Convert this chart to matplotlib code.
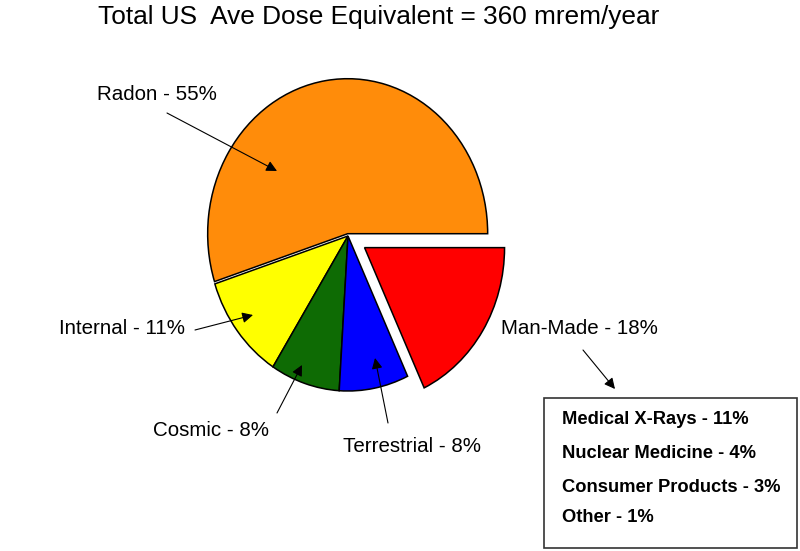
import matplotlib
matplotlib.use("Agg")
import matplotlib.pyplot as plt
from matplotlib.patches import Rectangle

plt.rcParams['font.family'] = ['Liberation Sans', 'DejaVu Sans']

title = "Total US  Ave Dose Equivalent = 360 mrem/year"
sources = ["Radon", "Internal", "Cosmic", "Terrestrial", "Man-Made"]
percent = [55, 11, 8, 8, 18]
colors = ["#FF8C0A", "#FFFF00", "#0E6B04", "#0000FF", "#FF0000"]
explode = [0.015, 0, 0, 0, 0.14]

man_made = ["Medical X-Rays", "Nuclear Medicine", "Consumer Products", "Other"]
man_made_pct = [11, 4, 3, 1]

W, H = 800, 551
fig = plt.figure(figsize=(W / 100, H / 100), dpi=100)
ax = fig.add_axes([0, 0, 1, 1])

ax.pie(percent, colors=colors, explode=explode, startangle=0, counterclock=True,
       wedgeprops=dict(edgecolor='black', linewidth=1.1))

# pie centre at pixel (348, 236), radius ~140 px wide, ~155 px tall
cx, cy, rx, ry = 348, 236, 140, 155
ax.set_aspect('auto')
ax.set_xlim(-cx / rx, (W - cx) / rx)
ax.set_ylim(-(H - cy) / ry, cy / ry)
ax.axis('off')


def fp(x, y):
    # image pixel (from top) -> figure pixels (from bottom)
    return (x, H - y)


fig.text(379 / W, 1 - 17 / H, title, ha='center', va='center', fontsize=18.9)

# label text, text position, arrow start, arrow tip
labels = [
    ("%s - %d%%" % (sources[0], percent[0]), (157, 95), (167, 113), (277, 171)),
    ("%s - %d%%" % (sources[1], percent[1]), (122, 328), (195, 330), (253, 315)),
    ("%s - %d%%" % (sources[2], percent[2]), (211, 430), (277, 413), (302, 365)),
    ("%s - %d%%" % (sources[3], percent[3]), (412, 446), (388, 423), (375, 358)),
    ("%s - %d%%" % (sources[4], percent[4]), (579, 328), (583, 350), (615, 389)),
]
for txt, pos, start, tip in labels:
    ax.annotate(txt, xy=fp(*pos), xycoords='figure pixels', ha='center',
                va='center', fontsize=14.8)
    ax.annotate("", xy=fp(*tip), xycoords='figure pixels',
                xytext=fp(*start), textcoords='figure pixels',
                arrowprops=dict(arrowstyle='-|>', color='black', lw=0.8,
                                mutation_scale=16, shrinkA=0, shrinkB=0))

# box with the man-made breakdown
bx0, by0 = fp(544, 548)
box = Rectangle((bx0 / W, by0 / H), (797 - 544) / W, (548 - 398) / H,
                transform=fig.transFigure, facecolor='white',
                edgecolor='#333333', linewidth=1.2, zorder=1)
ax.add_patch(box)

rows_y = [419, 453, 487, 518]
for name, pct, y in zip(man_made, man_made_pct, rows_y):
    ax.annotate("%s - %d%%" % (name, pct), xy=fp(562, y), xycoords='figure pixels',
                ha='left', va='center', fontsize=13.2, fontweight='bold',
                zorder=3)

fig.savefig("out.png", dpi=100)
